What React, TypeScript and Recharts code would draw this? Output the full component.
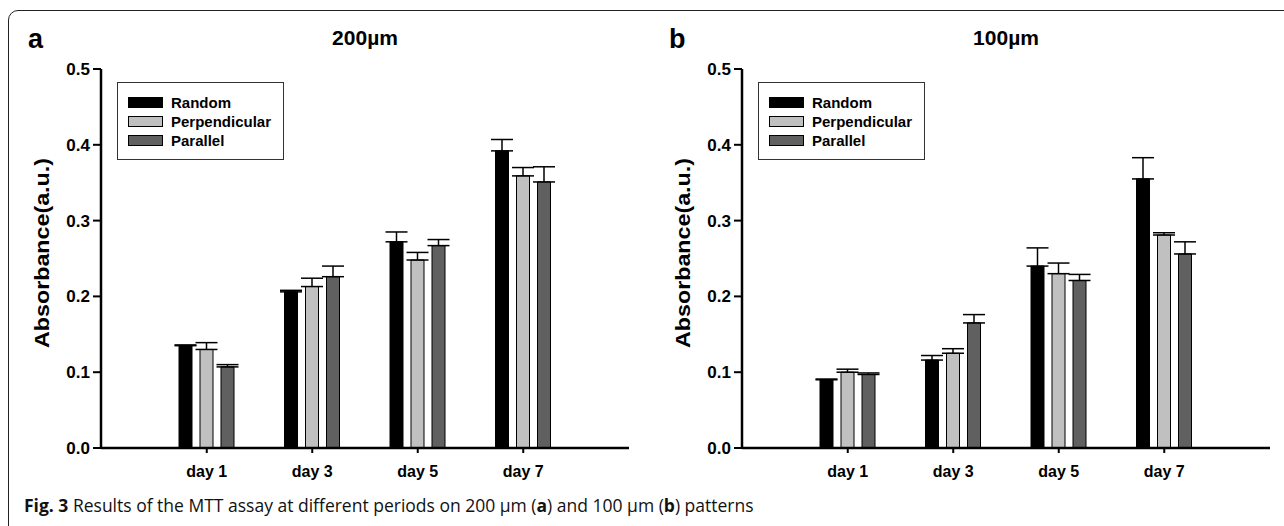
import React from 'react';
import { BarChart, Bar, XAxis, YAxis, ErrorBar, Legend } from 'recharts';

if (typeof document !== 'undefined') {
  document.body.style.margin = '0';
}

const days = ['day 1', 'day 3', 'day 5', 'day 7'];
const yTicks = [0, 0.1, 0.2, 0.3, 0.4, 0.5];
const seriesNames = ['Random', 'Perpendicular', 'Parallel'];
const seriesColors = ['#000000', '#c0c0c0', '#606060'];

// 200 µm panel (a)
const random200 = [0.135, 0.206, 0.272, 0.392];
const randomErr200 = [0.001, 0.002, 0.013, 0.015];
const perp200 = [0.130, 0.213, 0.248, 0.359];
const perpErr200 = [0.009, 0.011, 0.010, 0.011];
const para200 = [0.107, 0.226, 0.267, 0.351];
const paraErr200 = [0.003, 0.014, 0.008, 0.020];

// 100 µm panel (b)
const random100 = [0.090, 0.116, 0.240, 0.355];
const randomErr100 = [0.001, 0.006, 0.024, 0.028];
const perp100 = [0.100, 0.125, 0.230, 0.281];
const perpErr100 = [0.004, 0.006, 0.014, 0.003];
const para100 = [0.097, 0.165, 0.221, 0.256];
const paraErr100 = [0.002, 0.011, 0.008, 0.016];

const FONT = '"Liberation Sans", Arial, sans-serif';

function buildRows(vals: number[][], errs: number[][]) {
  return days.map((d, i) => ({
    day: d,
    s0: vals[0][i], e0: [0, errs[0][i]],
    s1: vals[1][i], e1: [0, errs[1][i]],
    s2: vals[2][i], e2: [0, errs[2][i]],
  }));
}

const data200 = buildRows([random200, perp200, para200], [randomErr200, perpErr200, paraErr200]);
const data100 = buildRows([random100, perp100, para100], [randomErr100, perpErr100, paraErr100]);

const LegendBox = (props: any) => {
  const payload: any[] = props.payload || [];
  const items = seriesNames.map((n) => payload.find((p) => p.value === n) || { value: n, color: '#000' });
  return (
    <div style={{ border: '1px solid #333', background: '#fff', padding: '10px 0 9px 10px', width: 155, fontFamily: FONT }}>
      {items.map((p: any, i: number) => (
        <div key={i} style={{ display: 'flex', alignItems: 'center', height: 19 }}>
          <span style={{ display: 'inline-block', width: 33, height: 9, background: p.color, border: '1px solid #000', marginRight: 8 }} />
          <span style={{ fontSize: 15, fontWeight: 'bold', color: '#000' }}>{p.value}</span>
        </div>
      ))}
    </div>
  );
};

const YLabel = (props: any) => {
  const cy = 253;
  return (
    <text x={42} y={cy} transform={`rotate(-90, 42, ${cy})`} textAnchor="middle" dominantBaseline="central"
      textLength={190} lengthAdjust="spacingAndGlyphs"
      style={{ fontFamily: FONT, fontSize: 20, fontWeight: 'bold', fill: '#000' }}>
      Absorbance(a.u.)
    </text>
  );
};

function Panel({ left, letter, title, data }: { left: number; letter: string; title: string; data: any[] }) {
  return (
    <div style={{ position: 'absolute', left, top: 0, width: 642, height: 526 }}>
      <div style={{ position: 'absolute', left: 28, top: 22, fontFamily: FONT, fontWeight: 'bold', fontSize: 27, lineHeight: '34px' }}>{letter}</div>
      <div style={{ position: 'absolute', left: 101, width: 528, top: 25, textAlign: 'center', fontFamily: FONT, fontWeight: 'bold', fontSize: 21, lineHeight: '26px' }}>{title}</div>
      <BarChart width={642} height={526} data={data} margin={{ top: 69, right: 13, bottom: 0, left: 0 }} barSize={13} barGap={8}>
        <XAxis dataKey="day" height={78} padding={{ left: 53, right: 53 }} tickSize={5} tickMargin={13}
          axisLine={{ stroke: '#000', strokeWidth: 2.5 }} tickLine={{ stroke: '#000', strokeWidth: 2 }}
          tick={{ fill: '#000', fontSize: 16, fontWeight: 'bold', fontFamily: FONT }} interval={0} />
        <XAxis xAxisId="top" dataKey="day" orientation="top" height={0} tick={false} tickLine={false}
          axisLine={{ stroke: '#000', strokeWidth: 2.5 }} />
        <YAxis domain={[0, 0.5]} ticks={yTicks} width={101} tickSize={8} tickMargin={3} interval={0}
          tickFormatter={(v: number) => v.toFixed(1)} allowDataOverflow
          axisLine={{ stroke: '#000', strokeWidth: 2.5 }} tickLine={{ stroke: '#000', strokeWidth: 2 }}
          tick={{ fill: '#000', fontSize: 17, fontWeight: 'bold', fontFamily: FONT }}
          label={{ content: <YLabel /> } as any} />
        <YAxis yAxisId="right" orientation="right" width={0} tick={false} tickLine={false} domain={[0, 0.5]}
          axisLine={{ stroke: '#000', strokeWidth: 2.5 }} />
        <Legend layout="horizontal" verticalAlign="middle" align="center" content={<LegendBox />}
          wrapperStyle={{ position: 'absolute', left: 117, top: 82, width: 166 }} />
        {seriesNames.map((n, i) => (
          <Bar key={n} dataKey={`s${i}`} name={n} fill={seriesColors[i]} stroke="#000" strokeWidth={1} isAnimationActive={false}>
            <ErrorBar dataKey={`e${i}`} width={11} stroke="#000" strokeWidth={1.5} direction="y" />
          </Bar>
        ))}
      </BarChart>
    </div>
  );
}

export default function App() {
  return (
    <div style={{ position: 'relative', width: 1284, height: 526, overflow: 'hidden', background: '#fff' }}>
      <div style={{ position: 'absolute', left: 8, top: 10, width: 1300, height: 540, border: '1.5px solid #222', borderRadius: 10 }} />
      <Panel left={0} letter="a" title="200µm" data={data200} />
      <Panel left={641} letter="b" title="100µm" data={data100} />
      <div style={{ position: 'absolute', left: 24, top: 493, fontFamily: '"Open Sans", sans-serif', fontSize: 17.5, color: '#111', whiteSpace: 'nowrap' }}>
        <b>Fig. 3</b> Results of the MTT assay at different periods on 200 µm (<b>a</b>) and 100 µm (<b>b</b>) patterns
      </div>
    </div>
  );
}
